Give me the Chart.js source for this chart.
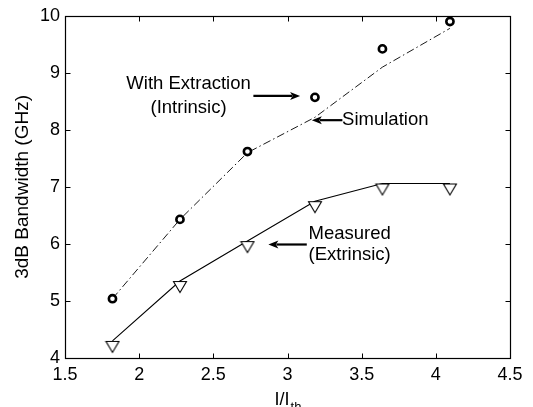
<!DOCTYPE html>
<html>
<head>
<meta charset="utf-8">
<script src="https://cdn.jsdelivr.net/npm/chart.js@4"></script>
<style>
  html, body { margin: 0; padding: 0; background: #fff; }
  #wrap { width: 533px; height: 407px; }
</style>
</head>
<body>
<div id="wrap"><canvas id="c" width="533" height="407"></canvas></div>
<script>
// ---- data ----
const currentRatio   = [1.82, 2.275, 2.73, 3.185, 3.64, 4.095];   // I/Ith
const extracted      = [5.04, 6.43, 7.62, 8.57, 9.42, 9.90];       // With Extraction (Intrinsic), GHz
const simulated      = [5.04, 6.43, 7.60, 8.22, 9.10, 9.78];       // Simulation, GHz
const measured       = [4.30, 5.35, 6.05, 6.75, 7.06, 7.06];       // Measured (Extrinsic), GHz
const xTickValues    = [1.5, 2, 2.5, 3, 3.5, 4, 4.5];
const yTickValues    = [4, 5, 6, 7, 8, 9, 10];

const FONT = '"Liberation Sans", Arial, Helvetica, sans-serif';

// annotation text & arrows in data units
const notes = [
  { lines: ['With Extraction', '(Intrinsic)'], align: 'center', tx: 2.333, ty: [8.80, 8.39],
    arrow: [2.77, 8.595, 3.085, 8.595] },
  { lines: ['Simulation'], align: 'left', tx: 3.368, ty: [8.17],
    arrow: [3.37, 8.17, 3.164, 8.17] },
  { lines: ['Measured', '(Extrinsic)'], align: 'left', tx: 3.142, ty: [6.18, 5.815],
    arrow: [3.13, 5.99, 2.871, 5.99] }
];

function toXY(arr) { return currentRatio.map((v, i) => ({ x: v, y: arr[i] })); }

// downward triangle whose top edge sits at the data point
function makeTriangle() {
  const c = document.createElement('canvas');
  c.width = 16; c.height = 26;
  const g = c.getContext('2d');
  g.beginPath();
  g.moveTo(1.5, 13.5); g.lineTo(14.5, 13.5); g.lineTo(8, 24.5); g.closePath();
  g.fillStyle = '#fff'; g.fill();
  g.strokeStyle = '#000'; g.lineWidth = 1.1; g.stroke();
  return c;
}

function drawArrow(ctx, x1, y1, x2, y2) {
  const ang = Math.atan2(y2 - y1, x2 - x1);
  const hl = 10, hw = 4;
  const bx = x2 - hl * Math.cos(ang), by = y2 - hl * Math.sin(ang);
  ctx.beginPath();
  ctx.moveTo(x1, y1); ctx.lineTo(bx + 2 * Math.cos(ang), by + 2 * Math.sin(ang));
  ctx.lineWidth = 2.2; ctx.stroke();
  ctx.beginPath();
  ctx.moveTo(x2, y2);
  ctx.lineTo(bx - hw * Math.sin(ang), by + hw * Math.cos(ang));
  ctx.lineTo(bx + 2.5 * Math.cos(ang), by + 2.5 * Math.sin(ang));
  ctx.lineTo(bx + hw * Math.sin(ang), by - hw * Math.cos(ang));
  ctx.closePath(); ctx.fill();
}

const framePlugin = {
  id: 'frame',
  afterDraw(chart) {
    const { ctx, chartArea: a, scales: { x, y } } = chart;
    ctx.save();
    ctx.strokeStyle = '#000'; ctx.fillStyle = '#000';
    ctx.lineWidth = 1.2;
    const L = Math.round(a.left) + 0.5, R = Math.round(a.right) + 0.5;
    const T = Math.round(a.top) + 0.5, B = Math.round(a.bottom) + 0.5;
    ctx.strokeRect(L, T, R - L, B - T);
    ctx.lineWidth = 1;
    ctx.beginPath();
    xTickValues.forEach(v => {
      const px = Math.round(x.getPixelForValue(v)) + 0.5;
      ctx.moveTo(px, B); ctx.lineTo(px, B - 5);
      ctx.moveTo(px, T); ctx.lineTo(px, T + 5);
    });
    yTickValues.forEach(v => {
      const py = Math.round(y.getPixelForValue(v)) + 0.5;
      ctx.moveTo(L, py); ctx.lineTo(L + 5, py);
      ctx.moveTo(R, py); ctx.lineTo(R - 5, py);
    });
    ctx.stroke();

    // annotations
    ctx.font = '18.5px ' + FONT;
    ctx.textBaseline = 'middle';
    notes.forEach(n => {
      ctx.textAlign = n.align;
      n.lines.forEach((t, i) => {
        ctx.fillText(t, x.getPixelForValue(n.tx), y.getPixelForValue(n.ty[i]));
      });
      const [ax1, ay1, ax2, ay2] = n.arrow;
      drawArrow(ctx, x.getPixelForValue(ax1), y.getPixelForValue(ay1),
                     x.getPixelForValue(ax2), y.getPixelForValue(ay2));
    });

    // x-axis title I/I_th
    const cx = (a.left + a.right) / 2;
    ctx.textBaseline = 'alphabetic';
    ctx.textAlign = 'left';
    ctx.font = '18px ' + FONT;
    const main = 'I/I';
    const wMain = ctx.measureText(main).width;
    ctx.font = '13px ' + FONT;
    const wSub = ctx.measureText('th').width;
    const start = cx - (wMain + wSub) / 2;
    ctx.font = '18px ' + FONT;
    ctx.fillText(main, start, 405);
    ctx.font = '13px ' + FONT;
    ctx.fillText('th', start + wMain + 1, 411);
    ctx.restore();
  }
};

new Chart(document.getElementById('c'), {
  type: 'scatter',
  data: {
    datasets: [
      {
        label: 'With Extraction (Intrinsic)',
        data: toXY(extracted),
        showLine: false,
        pointStyle: 'circle',
        pointRadius: 3.6,
        pointBorderWidth: 2.6,
        pointBorderColor: '#000',
        pointBackgroundColor: '#fff'
      },
      {
        label: 'Simulation',
        data: toXY(simulated),
        showLine: true,
        borderColor: '#000',
        borderWidth: 0.9,
        borderDash: [8, 3, 1.5, 3],
        pointRadius: 0,
        tension: 0
      },
      {
        label: 'Measured (Extrinsic)',
        data: toXY(measured),
        showLine: true,
        borderColor: '#000',
        borderWidth: 1.1,
        pointStyle: makeTriangle(),
        pointRadius: 8,
        tension: 0
      }
    ]
  },
  options: {
    responsive: false,
    animation: false,
    devicePixelRatio: 1,
    layout: { padding: { left: 0, top: 14, right: 23, bottom: 0 } },
    plugins: { legend: { display: false }, tooltip: { enabled: false } },
    scales: {
      x: {
        type: 'linear', min: 1.5, max: 4.5,
        afterBuildTicks: s => { s.ticks = xTickValues.map(v => ({ value: v })); },
        afterFit: s => { s.height = 49; },
        grid: { display: false, drawTicks: false },
        border: { display: false },
        ticks: { color: '#000', padding: 6, font: { family: FONT, size: 18 },
                 callback: v => String(v) }
      },
      y: {
        type: 'linear', min: 4, max: 10,
        afterBuildTicks: s => { s.ticks = yTickValues.map(v => ({ value: v })); },
        afterFit: s => { s.width = 65; },
        grid: { display: false, drawTicks: false },
        border: { display: false },
        title: { display: true, text: '3dB Bandwidth (GHz)', color: '#000',
                 font: { family: FONT, size: 19, weight: 'normal' }, padding: { top: 11, bottom: 0 } },
        ticks: { color: '#000', padding: 5, font: { family: FONT, size: 18 },
                 callback: v => String(v) }
      }
    }
  },
  plugins: [framePlugin]
});
</script>
</body>
</html>
